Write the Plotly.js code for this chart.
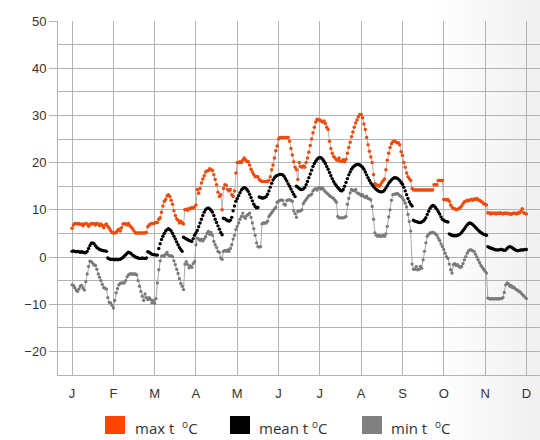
<!DOCTYPE html>
<html>
<head>
<meta charset="utf-8">
<script src="https://cdn.plot.ly/plotly-3.0.1.min.js"></script>
<style>
  html, body { margin: 0; padding: 0; }
  body { width: 540px; height: 440px; overflow: hidden;
         background: linear-gradient(to right, #ffffff 0%, #ffffff 80%, #f0f0f0 100%); }
  #chart { width: 540px; height: 440px; }
</style>
</head>
<body>
<div id="chart"></div>
<script>
// Month tick labels
const monthLabels = ["J","F","M","A","M","J","J","A","S","O","N","D"];
const pointsPerMonth = 30;

// Daily maximum temperature (°C), Jan 1 .. Dec 1 (30 points per month)
const maxT = [
  6.1, 6.8, 7.1, 7.1, 7.0, 7.1, 6.9, 7.0, 6.6, 7.0, 7.1, 7.0, 6.5, 6.9, 7.1, 7.0, 7.1, 6.8, 7.1, 7.0, 6.6, 7.0, 6.7, 6.2, 6.8, 7.0, 6.5, 6.1, 5.6, 5.2,
  5.1, 5.1, 5.2, 5.6, 5.9, 5.5, 6.2, 7.0, 7.1, 7.0, 6.8, 7.1, 6.6, 6.3, 6.0, 5.5, 5.1, 5.1, 5.1, 5.1, 5.1, 5.1, 5.1, 5.1, 5.2, 6.4, 6.8, 7.0, 7.1, 7.1,
  7.2, 7.3, 7.3, 8.0, 8.3, 9.5, 10.8, 11.8, 12.2, 12.9, 13.2, 12.8, 12.0, 11.2, 9.8, 8.8, 8.1, 7.8, 7.2, 7.6, 7.2, 7.0, 10.0, 10.1, 9.9, 10.3, 10.2, 10.5, 10.4, 10.6,
  11.0, 14.3, 13.5, 14.5, 15.7, 16.5, 17.2, 18.0, 18.2, 18.3, 18.7, 18.5, 18.3, 17.4, 16.4, 15.3, 13.7, 12.8, 13.2, 10.0, 14.5, 15.3, 15.2, 14.3, 14.0, 14.3, 13.2, 12.8, 14.0, 17.8,
  20.0, 20.0, 20.2, 20.0, 20.5, 21.0, 20.6, 20.3, 20.2, 19.5, 18.6, 18.0, 17.5, 17.0, 17.0, 17.0, 16.4, 16.2, 16.0, 16.0, 16.0, 16.0, 16.0, 16.2, 17.0, 18.5, 19.5, 21.0, 22.5, 23.5,
  25.0, 25.3, 25.3, 25.3, 25.3, 25.3, 25.3, 25.3, 24.5, 23.0, 21.6, 20.2, 19.0, 18.5, 16.4, 20.0, 19.2, 19.0, 19.3, 19.0, 20.0, 21.0, 22.2, 23.6, 25.0, 26.3, 27.5, 28.6, 29.2, 29.0,
  29.0, 28.8, 28.6, 28.8, 28.3, 27.5, 27.0, 24.5, 23.0, 22.0, 21.3, 21.0, 20.6, 20.5, 21.0, 20.3, 20.3, 20.6, 20.2, 20.7, 22.0, 23.2, 24.3, 25.5, 26.5, 27.5, 28.4, 29.0, 29.7, 30.2,
  30.2, 29.5, 28.2, 27.0, 25.3, 23.8, 22.4, 21.2, 20.0, 17.5, 15.5, 15.3, 15.2, 15.0, 15.3, 15.8, 16.2, 16.5, 18.5, 20.5, 22.0, 23.2, 24.0, 24.4, 24.6, 24.4, 24.2, 24.2, 23.8, 22.3,
  21.5, 20.0, 19.0, 17.8, 17.0, 16.6, 16.2, 14.5, 14.2, 14.2, 14.2, 14.2, 14.2, 14.2, 14.2, 14.2, 14.2, 14.2, 14.2, 14.2, 14.2, 14.2, 14.2, 15.3, 15.3, 15.3, 16.2, 16.2, 16.2, 16.2,
  12.2, 12.2, 12.1, 12.2, 11.8, 11.0, 10.6, 10.3, 10.2, 10.0, 10.1, 10.2, 10.5, 10.8, 11.3, 11.7, 11.8, 12.0, 11.9, 12.1, 12.2, 12.0, 12.3, 12.2, 12.4, 12.1, 12.0, 11.8, 11.6, 11.3,
  11.2, 11.0, 9.3, 9.4, 9.1, 9.3, 9.2, 9.3, 9.1, 9.3, 9.2, 9.4, 9.2, 9.1, 9.3, 9.2, 9.3, 9.1, 9.2, 9.0, 9.2, 9.3, 9.2, 9.1, 9.4, 9.3, 9.7, 10.2, 9.4, 9.2, 9.1
];

// Daily mean temperature (°C)
const meanT = [
  1.2, 1.3, 1.2, 1.1, 1.2, 1.1, 1.0, 1.1, 1.0, 0.9, 0.9, 1.2, 1.8, 2.4, 2.9, 3.0, 2.8, 2.4, 2.0, 1.8, 1.6, 1.5, 1.4, 1.3, 1.3, 1.2, -0.2, -0.4, -0.5, -0.5,
  -0.5, -0.6, -0.5, -0.6, -0.5, -0.5, -0.3, -0.1, 0.2, 0.5, 0.8, 1.0, 0.9, 0.7, 0.4, 0.2, 0.0, -0.1, -0.2, -0.3, -0.3, -0.2, -0.3, -0.3, -0.2, 1.1, 1.0, 0.8, 0.6, 0.5,
  0.5, 0.4, 0.4, 1.8, 2.8, 3.7, 4.4, 5.0, 5.5, 5.8, 6.0, 5.8, 5.5, 5.0, 4.4, 3.8, 3.2, 2.6, 2.0, 1.6, 1.2, 4.2, 4.0, 3.8, 3.7, 3.5, 3.4, 3.3, 3.9, 4.6,
  5.1, 5.6, 6.4, 7.2, 8.0, 8.8, 9.5, 10.0, 10.3, 10.4, 10.2, 9.9, 9.5, 8.8, 8.0, 7.3, 6.6, 5.9, 5.2, 4.7, 8.2, 8.1, 7.9, 7.7, 7.6, 7.8, 8.4, 9.8, 10.8, 11.8,
  12.4, 13.0, 13.6, 14.2, 14.5, 14.7, 14.6, 14.3, 13.9, 13.3, 12.6, 11.9, 11.2, 10.7, 10.4, 10.5, 12.7, 12.6, 12.5, 12.5, 12.6, 12.8, 13.3, 14.0, 14.8, 15.6, 16.3, 16.8, 17.1, 17.3,
  17.4, 17.5, 17.5, 17.4, 17.1, 16.6, 16.1, 15.5, 15.0, 14.4, 13.8, 13.3, 12.8, 15.0, 14.8, 14.5, 14.3, 14.3, 14.4, 14.7, 15.3, 16.0, 16.8, 17.6, 18.4, 19.2, 19.8, 20.3, 20.7, 21.0,
  21.1, 21.0, 20.7, 20.3, 19.8, 19.2, 18.6, 17.9, 17.2, 16.6, 16.0, 15.5, 15.1, 14.7, 14.4, 14.1, 14.0, 14.3, 15.0, 15.8, 16.6, 17.4, 18.0, 18.6, 19.0, 19.3, 19.5, 19.6, 19.6, 19.5,
  19.3, 19.0, 18.6, 18.0, 17.4, 16.8, 16.2, 15.7, 15.3, 14.9, 14.6, 14.3, 14.1, 13.9, 13.8, 13.8, 13.9, 14.2, 14.6, 15.1, 15.6, 16.0, 16.3, 16.6, 16.8, 16.8, 16.7, 16.5, 16.2, 15.8,
  15.4, 14.8, 14.0, 13.2, 12.4, 11.7, 11.2, 10.8, 7.8, 7.6, 7.5, 7.4, 7.3, 7.3, 7.4, 7.6, 7.9, 8.3, 9.0, 9.7, 10.3, 10.7, 10.9, 10.8, 10.5, 10.1, 9.6, 9.1, 8.5, 8.0,
  7.8, 7.6, 7.5, 7.4, 4.9, 4.7, 4.6, 4.5, 4.5, 4.5, 4.6, 4.7, 4.9, 5.2, 5.6, 6.0, 6.4, 6.8, 7.1, 7.2, 7.1, 6.9, 6.6, 6.3, 6.0, 5.7, 5.4, 5.2, 5.0, 4.8,
  4.7, 4.6, 2.2, 2.0, 1.9, 1.8, 1.7, 1.6, 1.5, 1.5, 1.5, 1.6, 1.6, 1.5, 1.4, 1.5, 1.8, 2.1, 2.2, 2.1, 1.9, 1.7, 1.5, 1.4, 1.3, 1.4, 1.5, 1.5, 1.5, 1.6, 1.6
];

// Daily minimum temperature (°C)
const minT = [
  -5.9, -6.0, -6.5, -7.0, -7.3, -6.8, -6.2, -6.0, -6.6, -7.0, -5.2, -3.6, -2.0, -0.9, -1.0, -1.3, -1.7, -1.8, -2.6, -3.6, -4.3, -5.0, -5.8, -6.5, -6.6, -6.8, -8.6, -9.6, -9.7, -10.2,
  -10.8, -9.2, -7.6, -6.7, -5.9, -5.6, -5.5, -5.5, -5.5, -5.0, -4.2, -3.8, -3.6, -3.6, -3.6, -3.6, -3.6, -3.8, -5.0, -6.2, -7.3, -8.3, -9.2, -7.8, -8.6, -9.0, -8.6, -9.0, -9.7, -9.2,
  -9.8, -8.8, -5.5, -2.7, -0.8, 0.2, 0.3, 0.2, 0.6, 1.0, 0.4, 0.2, 0.3, 0.1, -0.8, -1.6, -2.6, -3.5, -4.6, -5.6, -6.2, -6.9, -1.5, -1.0, -1.6, -2.3, -1.9, -2.2, -1.4, -1.0,
  2.6, 4.0, 3.8, 3.5, 3.8, 3.4, 3.8, 4.3, 5.0, 5.4, 4.8, 5.2, 4.6, 3.3, 2.6, 2.0, 1.2, 1.0, -0.2, -0.5, 1.2, 1.4, 1.2, 1.5, 1.2, 1.8, 2.6, 3.8, 4.6, 5.8,
  6.5, 7.2, 8.0, 8.6, 9.3, 8.5, 8.2, 8.8, 9.0, 9.3, 8.4, 7.2, 6.0, 4.6, 3.0, 2.2, 2.1, 2.2, 7.0, 7.2, 7.2, 7.2, 7.6, 8.6, 9.0, 9.4, 9.8, 10.2, 10.5, 11.6,
  11.8, 12.0, 12.1, 12.0, 11.2, 11.0, 12.0, 12.1, 12.1, 12.0, 11.8, 9.8, 9.2, 8.4, 9.7, 9.7, 9.8, 10.0, 11.3, 11.8, 12.2, 12.6, 13.0, 13.1, 13.3, 14.0, 14.3, 14.5, 14.2, 14.6,
  14.7, 14.4, 14.6, 14.2, 13.8, 13.6, 13.3, 13.0, 12.8, 12.6, 12.4, 12.0, 11.6, 8.6, 8.3, 8.3, 8.3, 8.3, 8.4, 8.6, 11.2, 12.4, 13.6, 14.3, 14.1, 14.0, 14.3, 13.6, 13.5, 13.3,
  13.0, 13.2, 12.8, 12.6, 12.9, 12.4, 12.3, 12.1, 10.7, 8.0, 5.1, 4.6, 4.4, 4.6, 4.4, 4.4, 4.6, 4.4, 4.9, 6.5, 8.5, 10.0, 12.0, 13.2, 13.3, 13.3, 13.5, 13.3, 13.0, 12.8,
  12.5, 12.0, 11.4, 10.6, 9.0, 7.5, 5.5, -1.5, -2.6, -2.6, -2.0, -2.7, -2.6, -2.0, -2.4, -0.6, 1.2, 3.0, 4.4, 4.8, 5.1, 5.1, 5.2, 5.1, 4.9, 4.6, 4.0, 3.5, 2.8, 2.2,
  1.6, 0.8, 0.1, -0.3, -1.5, -2.7, -3.4, -1.6, -1.4, -1.8, -1.6, -2.0, -2.2, -2.0, -1.4, -0.6, 0.1, 0.8, 1.3, 1.5, 1.5, 1.3, 1.2, 0.6, 0.0, -0.6, -1.2, -1.8, -2.2, -2.6,
  -3.0, -3.4, -8.7, -8.8, -8.9, -8.8, -8.9, -8.8, -8.9, -8.8, -8.9, -8.8, -8.8, -8.6, -7.5, -5.9, -5.5, -5.7, -6.2, -6.0, -6.5, -6.4, -6.8, -6.9, -7.2, -7.3, -7.6, -7.9, -8.2, -8.5, -8.8
];

const degSup = '<sup><span style="font-size:10px">o</span></sup>C';
const seriesNames = ["max t  " + degSup, "mean t " + degSup, "min t  " + degSup];
const seriesColors = ["#ff4500", "#000000", "#808080"];

// x position of each daily point, in month units (month index + day fraction)
const xs = maxT.map((_, i) => i / pointsPerMonth);

const traces = [
  { x: xs, y: maxT, type: "scatter", mode: "lines+markers", name: "max t", showlegend: false,
    line: { color: "#b5b5b5", width: 1 }, marker: { color: "#f04a0c", size: 3.5 }, hoverinfo: "y" },
  { x: xs, y: meanT, type: "scatter", mode: "markers", name: "mean t", showlegend: false,
    marker: { color: "#000000", size: 3.4 }, hoverinfo: "y" },
  { x: xs, y: minT, type: "scatter", mode: "lines+markers", name: "min t", showlegend: false,
    line: { color: "#a8a8a8", width: 1 }, marker: { color: "#7a7a7a", size: 3.3 }, hoverinfo: "y" }
];

// Legend drawn as shapes + annotations (pixel -> paper helpers)
const M = { l: 58, r: 0, t: 21, b: 65 };
const W = 540, H = 440;
const pw = W - M.l - M.r, ph = H - M.t - M.b;
const px = v => (v - M.l) / pw;
const py = v => (H - M.b - v) / ph;
const legendItems = [
  { sq: 105, tx: 133 },
  { sq: 230, tx: 257 },
  { sq: 362, tx: 389 }
];
const shapes = legendItems.map((it, k) => ({
  type: "rect", xref: "paper", yref: "paper",
  x0: px(it.sq), x1: px(it.sq + 20), y0: py(434), y1: py(416),
  fillcolor: seriesColors[k], line: { width: 0 }
}));
const annotations = legendItems.map((it, k) => ({
  xref: "paper", yref: "paper", x: px(it.tx), y: py(427),
  xanchor: "left", yanchor: "middle", showarrow: false,
  text: seriesNames[k],
  font: { family: "Open Sans, Lato, sans-serif", size: 15, color: "#333333" }
}));

const gridC = "#b3b3b3";
const tickFont = { family: "Liberation Sans, Arial, sans-serif", size: 13, color: "#333333" };

const layout = {
  width: W, height: H,
  margin: M,
  paper_bgcolor: "rgba(0,0,0,0)",
  plot_bgcolor: "rgba(0,0,0,0)",
  xaxis: {
    range: [-0.34, 11.33],
    tickmode: "array",
    tickvals: monthLabels.map((_, i) => i),
    ticktext: monthLabels,
    showgrid: true, gridcolor: gridC, gridwidth: 1,
    showline: true, linecolor: gridC, linewidth: 1,
    zeroline: false, ticks: "outside", ticklen: 6, tickcolor: "rgba(0,0,0,0)",
    tickfont: tickFont
  },
  yaxis: {
    range: [-25, 50],
    tickmode: "array",
    tickvals: [-20, -10, 0, 10, 20, 30, 40, 50],
    showgrid: true, gridcolor: gridC, gridwidth: 1,
    minor: { tickmode: "array", tickvals: [-15, -5, 5, 15, 25, 35, 45], showgrid: true, gridcolor: gridC, gridwidth: 1 },
    showline: true, linecolor: gridC, linewidth: 1,
    zeroline: false, ticks: "outside", ticklen: 8, tickcolor: gridC,
    tickfont: tickFont
  },
  shapes: shapes,
  annotations: annotations,
  showlegend: false
};

Plotly.newPlot("chart", traces, layout, { displayModeBar: false, staticPlot: true });
</script>
</body>
</html>
